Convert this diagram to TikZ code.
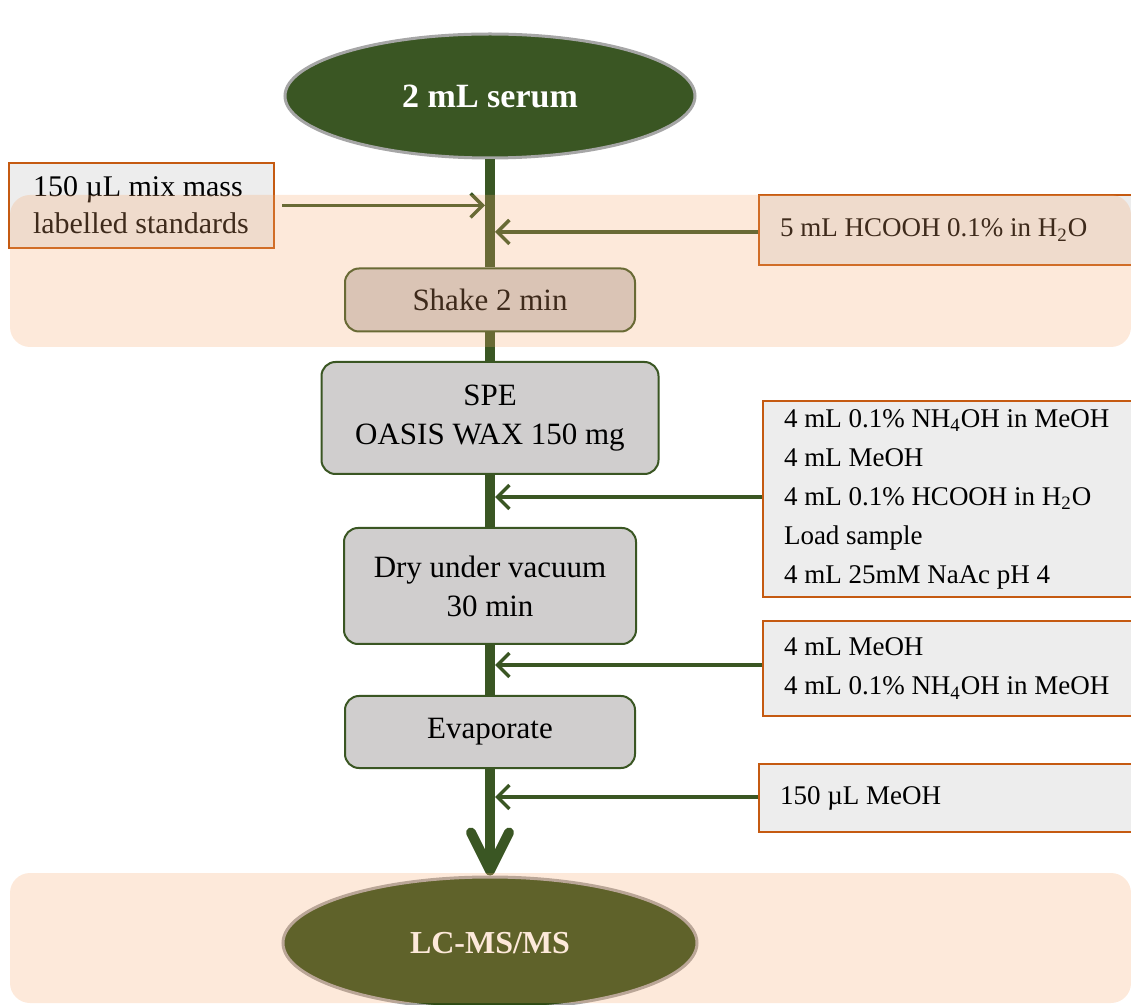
\documentclass[tikz,border=0pt]{standalone}
\usepackage{fontspec}
\setmainfont{Liberation Serif}
\usetikzlibrary{shapes.geometric,arrows.meta}
\definecolor{dkgreen}{RGB}{58,86,35}
\definecolor{deepolive}{RGB}{45,75,20}
\definecolor{boxgray}{RGB}{208,206,206}
\definecolor{inputgray}{RGB}{237,237,237}
\definecolor{inputorange}{RGB}{197,90,17}
\definecolor{bandtint}{RGB}{248,168,108}
\definecolor{rimgray}{RGB}{166,166,166}
\newcommand{\txtfont}{\fontsize{15.5}{19.5}\selectfont}
\newcommand{\smfont}{\fontsize{13.5}{19.5}\selectfont}

\begin{document}
\begin{tikzpicture}[x=0.5pt,y=-0.5pt,
	sample/.style={ellipse,fill=dkgreen,draw=rimgray,line width=1.5pt,text=white,font=\fontsize{17}{19}\selectfont\bfseries},
	process/.style={rectangle,rounded corners=7pt,fill=boxgray,draw=dkgreen,line width=1pt,align=center,font=\txtfont},
	reagent/.style={rectangle,fill=inputgray,draw=inputorange,line width=1pt,align=flush left,anchor=west,inner xsep=10.5pt,text width=200pt,font=\smfont},
	flow/.style={draw=dkgreen,line width=5pt},
	feed/.style={draw=dkgreen,line width=1.75pt,-{Straight Barb[length=6pt,width=12pt]}},
	band/.style={fill=bandtint,fill opacity=0.25,rounded corners=10pt}]
	\useasboundingbox (0,0) rectangle (1131,1005);
	\node[sample,minimum width=205pt,minimum height=62pt] (serum) at (490,96) {2 mL serum};
	\node[sample,fill=deepolive,font=\fontsize{16}{19}\selectfont\bfseries,minimum width=207pt,minimum height=66pt] (lcms) at (490,943) {LC-MS/MS};
	\node[process,minimum width=145pt,minimum height=31.5pt] (shake) at (490,300) {Shake 2 min};
	\node[process,minimum width=168.5pt,minimum height=56pt] (spe) at (490,418) {SPE\\OASIS WAX 150 mg};
	\node[process,minimum width=146pt,minimum height=58pt] (dry) at (490,586) {Dry under vacuum\\30 min};
	\node[process,minimum width=145pt,minimum height=36pt] (evap) at (490,732) {Evaporate};
	\node[reagent,font=\fontsize{15}{18.5}\selectfont,text width=108.5pt,inner xsep=12pt,minimum height=42.5pt] (std) at (8,205.5) {150 µL mix mass\\labelled standards};
	\node[reagent,minimum height=35pt] (hcooh) at (758,230) {5 mL HCOOH 0.1\% in H\textsubscript{2}O};
	\node[reagent,minimum height=98pt] (cond) at (762,499) {4 mL 0.1\% NH\textsubscript{4}OH in MeOH\\4 mL MeOH\\4 mL 0.1\% HCOOH in H\textsubscript{2}O\\Load sample\\4 mL 25mM NaAc pH 4};
	\node[reagent,minimum height=47.5pt] (elute) at (762,668.5) {4 mL MeOH\\4 mL 0.1\% NH\textsubscript{4}OH in MeOH};
	\node[reagent,minimum height=34pt] (recon) at (758,798) {150 µL MeOH};
	% main stream
	\draw[flow] (serum.south) -- (shake.north);
	\draw[flow] (shake.south) -- (spe.north);
	\draw[flow] (spe.south) -- (dry.north);
	\draw[flow] (dry.south) -- (evap.north);
	\draw[flow,-{Straight Barb[round,length=19pt,width=19pt]}] (evap.south) -- (lcms.north);
	% additions
	\coordinate (j0) at (485,205.5);
	\coordinate (j1) at (495,232);
	\coordinate (j2) at (495,497);
	\coordinate (j3) at (495,665);
	\coordinate (j4) at (495,797);
	\draw[feed,shorten <=3.5pt] (std.east) -- (j0);
	\draw[feed] (hcooh.west |- j1) -- (j1);
	\draw[feed] (cond.west |- j2) -- (j2);
	\draw[feed] (elute.west |- j3) -- (j3);
	\draw[feed] (recon.west |- j4) -- (j4);
	% tinted bands
	\fill[band] (10,195) rectangle (1131,347);
	\fill[band] (10,873) rectangle (1131,1003);
\end{tikzpicture}
\end{document}
